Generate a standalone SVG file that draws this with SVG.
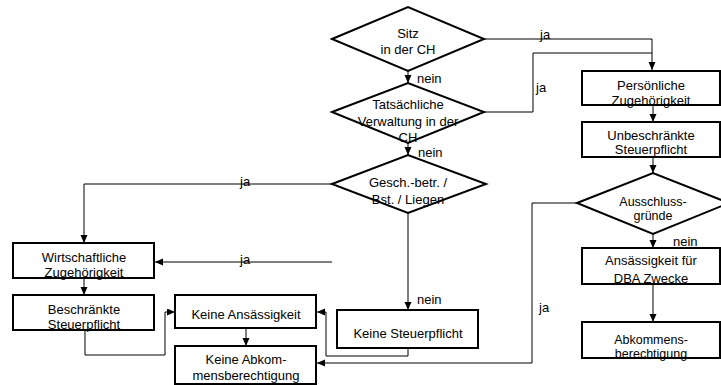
<svg xmlns="http://www.w3.org/2000/svg" width="721" height="385" viewBox="0 0 721 385">
<style>
.n{fill:#fff;stroke:#000;stroke-width:2}
.t{font-family:"Liberation Sans",Arial,sans-serif;font-size:13px;fill:#000;text-anchor:middle}
.s{font-size:12.5px}
.l{font-family:"Liberation Sans",Arial,sans-serif;font-size:13px;fill:#000}
.c{fill:none;stroke:#000;stroke-width:1}
.a{marker-end:url(#ah)}
</style>
<defs>
<marker id="ah" markerUnits="userSpaceOnUse" markerWidth="9" markerHeight="8" refX="8" refY="3.5" orient="auto">
<path d="M0,0 L8,3.5 L0,7 z" fill="#000"/>
</marker>
</defs>
<rect width="721" height="385" fill="#fff"/>
<g id="connectors">
<path class="c a" d="M484,39 H652 V70"/>
<path class="c a" d="M408,71 V83"/>
<path class="c" d="M484,112 H533 V53 H652"/>
<path class="c a" d="M408,143 V155"/>
<path class="c a" d="M332,184 H84 V243"/>
<path class="c a" d="M332,262 H155"/>
<path class="c a" d="M408,213 V310"/>
<path class="c a" d="M84,278 V295"/>
<path class="c a" d="M85,330 V355 H165 V312 H175"/>
<path class="c a" d="M246,328 V346"/>
<path class="c a" d="M408,348 V356 H326 V312 H317"/>
<path class="c a" d="M577,203 H532 V363 H317"/>
<path class="c a" d="M653,105 V122"/>
<path class="c a" d="M653,157 V173"/>
<path class="c a" d="M653,234 V248"/>
<path class="c a" d="M653,284 V322"/>
<text class="l" x="540" y="39">ja</text>
<text class="l" x="417" y="83">nein</text>
<text class="l" x="536" y="92">ja</text>
<text class="l" x="418" y="157">nein</text>
<text class="l" x="240" y="186">ja</text>
<text class="l" x="240" y="264">ja</text>
<text class="l" x="417" y="304">nein</text>
<text class="l" x="673" y="246">nein</text>
<text class="l" x="539" y="312">ja</text>
</g>
<g id="sitz">
<polygon class="n" points="332,39 408,7 484,39 408,71"/>
<text class="t" x="408" y="38">Sitz</text>
<text class="t" x="408" y="54">in der CH</text>
</g>
<g id="verwaltung">
<polygon class="n" points="332,112 408,83 484,112 408,143"/>
<text class="t" x="408" y="109">Tatsächliche</text>
<text class="t" x="408" y="126">Verwaltung in der</text>
<text class="t" x="408" y="142">CH</text>
</g>
<g id="gesch">
<polygon class="n" points="332,184 408,155 486,184 408,213"/>
<text class="t" x="408" y="187">Gesch.-betr. /</text>
<text class="t" x="408" y="204">Bst. / Liegen</text>
</g>
<g id="wirtschaftliche">
<rect class="n" x="13" y="243" width="141" height="35"/>
<text class="t" x="84" y="262">Wirtschaftliche</text>
<text class="t" x="84" y="277">Zugehörigkeit</text>
</g>
<g id="beschraenkte">
<rect class="n" x="13" y="295" width="141" height="35"/>
<text class="t" x="84" y="314">Beschränkte</text>
<text class="t" x="84" y="329">Steuerpflicht</text>
</g>
<g id="keine-ansaessigkeit">
<rect class="n" x="175" y="295" width="141" height="33"/>
<text class="t" x="246" y="319">Keine Ansässigkeit</text>
</g>
<g id="keine-abkommen">
<rect class="n" x="175" y="346" width="141" height="38"/>
<text class="t" x="246" y="364">Keine Abkom-</text>
<text class="t" x="246" y="380">mensberechtigung</text>
</g>
<g id="keine-steuerpflicht">
<rect class="n" x="337" y="310" width="141" height="38"/>
<text class="t" x="408" y="338">Keine Steuerpflicht</text>
</g>
<g id="persoenliche">
<rect class="n" x="582" y="71" width="138" height="34"/>
<text class="t" x="651" y="90">Persönliche</text>
<text class="t" x="651" y="105">Zugehörigkeit</text>
</g>
<g id="unbeschraenkte">
<rect class="n" x="582" y="122" width="138" height="35"/>
<text class="t" x="651" y="140">Unbeschränkte</text>
<text class="t" x="651" y="154">Steuerpflicht</text>
</g>
<g id="ausschluss">
<polygon class="n" points="577,203 653,173 729,203 653,234"/>
<text class="t s" x="653" y="206">Ausschluss-</text>
<text class="t s" x="653" y="220">gründe</text>
</g>
<g id="ansaessigkeit-dba">
<rect class="n" x="582" y="248" width="138" height="36"/>
<text class="t" x="651" y="265">Ansässigkeit für</text>
<text class="t" x="651" y="283">DBA Zwecke</text>
</g>
<g id="abkommensberechtigung">
<rect class="n" x="582" y="322" width="138" height="36"/>
<text class="t s" x="651" y="344">Abkommens-</text>
<text class="t s" x="651" y="358">berechtigung</text>
</g>
</svg>
